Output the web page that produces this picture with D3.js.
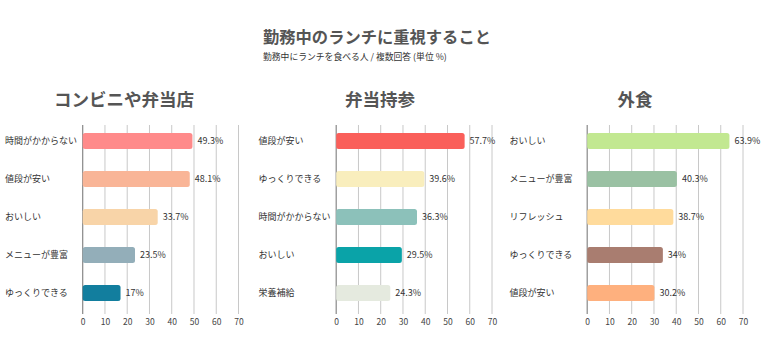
<!DOCTYPE html>
<html><head><meta charset="utf-8">
<script src="https://cdn.jsdelivr.net/npm/d3@7"></script>
<style>body{margin:0;background:#fff;font-family:"Noto Sans CJK JP","Noto Sans",sans-serif;}</style>
</head><body><svg id="c" width="768" height="356"></svg>
<script>
const title = "勤務中のランチに重視すること";
const subtitle = "勤務中にランチを食べる人 / 複数回答 (単位 %)";
const panelTitles = ["コンビニや弁当店", "弁当持参", "外食"];
const cats1 = ["時間がかからない", "値段が安い", "おいしい", "メニューが豊富", "ゆっくりできる"];
const vals1 = [49.3, 48.1, 33.7, 23.5, 17];
const cols1 = ["#FF8A8A", "#F9B597", "#F8D4A8", "#93AEB9", "#127E9E"];
const cats2 = ["値段が安い", "ゆっくりできる", "時間がかからない", "おいしい", "栄養補給"];
const vals2 = [57.7, 39.6, 36.3, 29.5, 24.3];
const cols2 = ["#FA5F5A", "#F9EEBD", "#8CC1BA", "#0AA3A8", "#E5EADF"];
const cats3 = ["おいしい", "メニューが豊富", "リフレッシュ", "ゆっくりできる", "値段が安い"];
const vals3 = [63.9, 40.3, 38.7, 34, 30.2];
const cols3 = ["#C2E891", "#9AC1A3", "#FFDB9C", "#A97D70", "#FEB07E"];
const ticks = [0, 10, 20, 30, 40, 50, 60, 70];

const panels = [
  {cats: cats1, vals: vals1, cols: cols1, ox: 0},
  {cats: cats2, vals: vals2, cols: cols2, ox: 253.5},
  {cats: cats3, vals: vals3, cols: cols3, ox: 504.5}
];

const svg = d3.select("#c");
const font = '"Noto Sans CJK JP","Noto Sans",sans-serif';
svg.append("text").attr("x", 263).attr("y", 43).attr("text-anchor", "start")
  .attr("font-family", font).attr("font-size", 16.3).attr("font-weight", "bold").attr("fill", "#555").text(title);
svg.append("text").attr("x", 263).attr("y", 59.5).attr("text-anchor", "start")
  .attr("font-family", font).attr("font-size", 8.8).attr("fill", "#333").text(subtitle);

panels.forEach((p, i) => {
  const g = svg.append("g").attr("transform", `translate(${p.ox},0)`);
  const x = d3.scaleLinear().domain([0, 70]).range([82.7, 238.5]);
  const y = d3.scaleBand().domain(p.cats).range([122, 312]).paddingInner(0.58).paddingOuter(0.29);
  g.append("text").attr("x", [124, 126.5, 130.5][i]).attr("y", 106).attr("text-anchor", "middle")
    .attr("font-family", font).attr("font-size", 17.5).attr("font-weight", "bold").attr("fill", "#555").text(panelTitles[i]);
  g.selectAll("line.grid").data(ticks).join("line").attr("class", "grid")
    .attr("x1", d => x(d)).attr("x2", d => x(d)).attr("y1", 125).attr("y2", 314)
    .attr("stroke", d => d === 0 ? "#888" : "#c8c8c8").attr("stroke-width", d => d === 0 ? 1.2 : 1);
  const ax = g.append("g").attr("transform", "translate(0,314)")
    .call(d3.axisBottom(x).tickValues(ticks).tickSize(0).tickPadding(5));
  ax.select(".domain").remove();
  ax.selectAll("text").attr("font-family", font).attr("font-size", 8.5).attr("fill", "#444");
  g.selectAll("rect.bar").data(p.vals).join("rect").attr("class", "bar")
    .attr("x", x(0)).attr("y", (d, j) => y(p.cats[j]))
    .attr("width", d => x(d) - x(0)).attr("height", y.bandwidth())
    .attr("rx", 2.5).attr("fill", (d, j) => p.cols[j]);
  g.selectAll("text.val").data(p.vals).join("text").attr("class", "val")
    .attr("x", d => x(d) + 5).attr("y", (d, j) => y(p.cats[j]) + y.bandwidth() / 2)
    .attr("dy", "0.35em").attr("font-family", font).attr("font-size", 9).attr("fill", "#333")
    .text(d => d + "%");
  g.selectAll("text.cat").data(p.cats).join("text").attr("class", "cat")
    .attr("x", 5).attr("y", d => y(d) + y.bandwidth() / 2).attr("dy", "0.35em")
    .attr("font-family", font).attr("font-size", 9).attr("fill", "#333").text(d => d);
});
</script></body></html>
